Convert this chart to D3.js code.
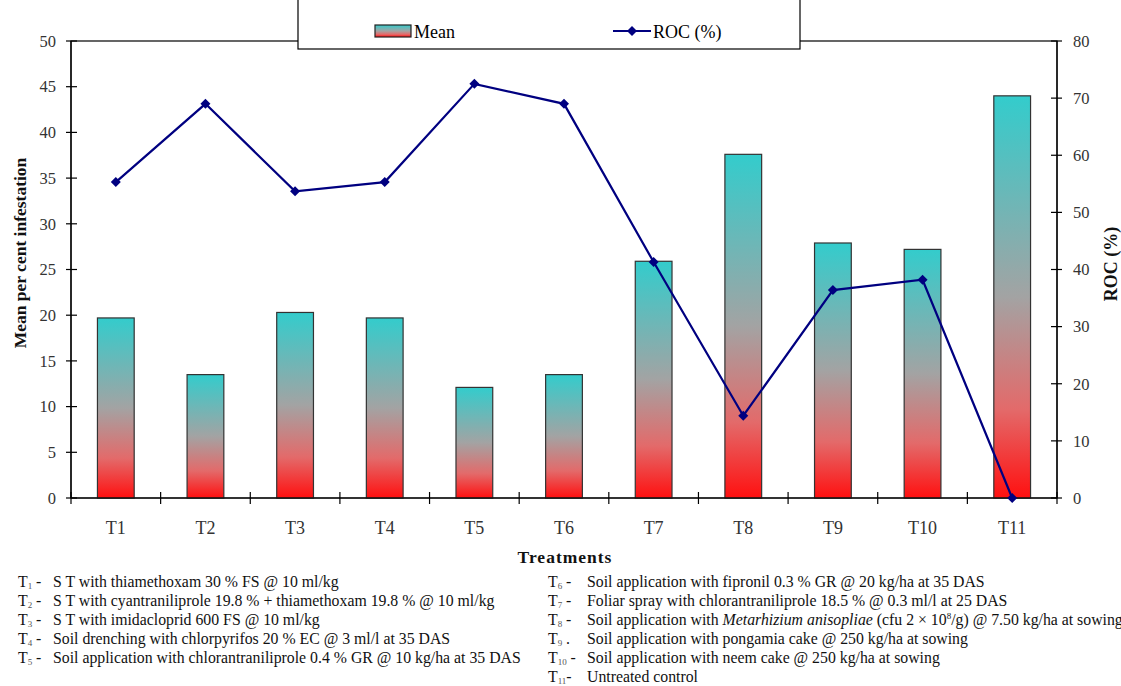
<!DOCTYPE html>
<html>
<head>
<meta charset="utf-8">
<script src="https://cdn.jsdelivr.net/npm/d3@7"></script>
<style>
  body { margin: 0; background: #fff; }
  svg { font-family: "Liberation Serif", "Times New Roman", serif; }
</style>
</head>
<body>
<svg id="chart" width="1121" height="686"></svg>
<script>
// data
var treatments = ['T1', 'T2', 'T3', 'T4', 'T5', 'T6', 'T7', 'T8', 'T9', 'T10', 'T11'];
var meanInfestation = [19.7, 13.5, 20.3, 19.7, 12.1, 13.5, 25.9, 37.6, 27.9, 27.2, 44.0];
var rocPercent = [55.3, 69.0, 53.7, 55.3, 72.5, 69.0, 41.3, 14.4, 36.4, 38.2, 0];
var leftTicks = [0, 5, 10, 15, 20, 25, 30, 35, 40, 45, 50];
var rightTicks = [0, 10, 20, 30, 40, 50, 60, 70, 80];

var notesLeft = [
  { n: '1', sep: ' -', parts: [{ t: 'S T with thiamethoxam 30 % FS @ 10 ml/kg' }] },
  { n: '2', sep: ' -', parts: [{ t: 'S T with cyantraniliprole 19.8 % + thiamethoxam 19.8 % @ 10 ml/kg' }] },
  { n: '3', sep: ' -', parts: [{ t: 'S T with imidacloprid 600 FS @ 10 ml/kg' }] },
  { n: '4', sep: ' -', parts: [{ t: 'Soil drenching with chlorpyrifos 20 % EC @ 3 ml/l at 35 DAS' }] },
  { n: '5', sep: ' -', parts: [{ t: 'Soil application with chlorantraniliprole 0.4 % GR @ 10 kg/ha at 35 DAS' }] }
];
var notesRight = [
  { n: '6', sep: ' -', parts: [{ t: 'Soil application with fipronil 0.3 % GR @ 20 kg/ha at 35 DAS' }] },
  { n: '7', sep: ' -', parts: [{ t: 'Foliar spray with chlorantraniliprole 18.5 % @ 0.3 ml/l at 25 DAS' }] },
  { n: '8', sep: ' -', parts: [{ t: 'Soil application with ' }, { t: 'Metarhizium anisopliae', it: true },
      { t: ' (cfu 2 × 10' }, { t: '8', sup: true }, { t: '/g) @ 7.50 kg/ha at sowing' }] },
  { n: '9', sep: ' .', parts: [{ t: 'Soil application with pongamia cake @ 250 kg/ha at sowing' }] },
  { n: '10', sep: ' -', parts: [{ t: 'Soil application with neem cake @ 250 kg/ha at sowing' }] },
  { n: '11', sep: '-', parts: [{ t: 'Untreated control' }] }
];

var svg = d3.select('#chart');
var pLeft = 71, pRight = 1057, pTop = 41, pBottom = 498;

var x = d3.scaleBand().domain(treatments).range([pLeft, pRight]).padding(0);
var yL = d3.scaleLinear().domain([0, 50]).range([pBottom, pTop]);
var yR = d3.scaleLinear().domain([0, 80]).range([pBottom, pTop]);
var cx = function(t) { return x(t) + x.bandwidth() / 2; };

// gradient for the bars: cyan on top, red at the base
var defs = svg.append('defs');
var grad = defs.append('linearGradient')
  .attr('id', 'barGrad')
  .attr('x1', 0).attr('y1', 0).attr('x2', 0).attr('y2', 1);
grad.append('stop').attr('offset', '0%').attr('stop-color', '#33cccc');
grad.append('stop').attr('offset', '50%').attr('stop-color', '#a3a3a3');
grad.append('stop').attr('offset', '78%').attr('stop-color', '#e36a6a');
grad.append('stop').attr('offset', '100%').attr('stop-color', '#ff1010');

// plot frame
svg.append('rect')
  .attr('x', pLeft).attr('y', pTop)
  .attr('width', pRight - pLeft).attr('height', pBottom - pTop)
  .attr('fill', 'none').attr('stroke', '#000').attr('stroke-width', 1.2);

// bars
var barW = x.bandwidth() * 0.41;
svg.append('g').selectAll('rect')
  .data(meanInfestation)
  .join('rect')
  .attr('x', function(d, i) { return cx(treatments[i]) - barW / 2; })
  .attr('y', function(d) { return yL(d); })
  .attr('width', barW)
  .attr('height', function(d) { return pBottom - yL(d); })
  .attr('fill', 'url(#barGrad)')
  .attr('stroke', '#333')
  .attr('stroke-width', 1.2);

// left axis
var gL = svg.append('g').attr('transform', 'translate(' + pLeft + ',0)');
gL.append('line').attr('y1', pTop).attr('y2', pBottom).attr('stroke', '#000').attr('stroke-width', 1.2);
gL.selectAll('.tk').data(leftTicks).join('line')
  .attr('x1', -5).attr('x2', 6)
  .attr('y1', function(d) { return yL(d); }).attr('y2', function(d) { return yL(d); })
  .attr('stroke', '#000').attr('stroke-width', 1.2);
gL.selectAll('text').data(leftTicks).join('text')
  .attr('x', -15).attr('y', function(d) { return yL(d); })
  .attr('dy', '0.35em').attr('text-anchor', 'end')
  .attr('font-size', 16.5).attr('fill', '#333')
  .text(function(d) { return d; });

// right axis
var gR = svg.append('g').attr('transform', 'translate(' + pRight + ',0)');
gR.append('line').attr('y1', pTop).attr('y2', pBottom).attr('stroke', '#000').attr('stroke-width', 1.2);
gR.selectAll('.tk').data(rightTicks).join('line')
  .attr('x1', -6).attr('x2', 5)
  .attr('y1', function(d) { return yR(d); }).attr('y2', function(d) { return yR(d); })
  .attr('stroke', '#000').attr('stroke-width', 1.2);
gR.selectAll('text').data(rightTicks).join('text')
  .attr('x', 16).attr('y', function(d) { return yR(d); })
  .attr('dy', '0.35em').attr('text-anchor', 'start')
  .attr('font-size', 16.5).attr('fill', '#333')
  .text(function(d) { return d; });

// x axis
var gX = svg.append('g');
gX.append('line').attr('x1', pLeft).attr('x2', pRight).attr('y1', pBottom).attr('y2', pBottom)
  .attr('stroke', '#000').attr('stroke-width', 1.2);
var bounds = treatments.map(function(t) { return x(t); }).concat([pRight]);
gX.selectAll('.tk').data(bounds).join('line')
  .attr('x1', function(d) { return d; }).attr('x2', function(d) { return d; })
  .attr('y1', pBottom - 6).attr('y2', pBottom + 6)
  .attr('stroke', '#000').attr('stroke-width', 1.2);
gX.selectAll('text').data(treatments).join('text')
  .attr('x', function(d) { return cx(d); })
  .attr('y', 534).attr('text-anchor', 'middle')
  .attr('font-size', 18).attr('fill', '#333')
  .text(function(d) { return d; });

// ROC line
var line = d3.line()
  .x(function(d, i) { return cx(treatments[i]); })
  .y(function(d) { return yR(d); });
svg.append('path')
  .datum(rocPercent)
  .attr('d', line)
  .attr('fill', 'none').attr('stroke', '#000080').attr('stroke-width', 2.2);
svg.append('g').selectAll('path')
  .data(rocPercent)
  .join('path')
  .attr('d', d3.symbol().type(d3.symbolDiamond2).size(64))
  .attr('transform', function(d, i) {
    return 'translate(' + cx(treatments[i]) + ',' + yR(d) + ')';
  })
  .attr('fill', '#000080');

// axis titles
svg.append('text')
  .attr('transform', 'translate(26,253) rotate(-90)')
  .attr('text-anchor', 'middle').attr('font-size', 17.5).attr('font-weight', 'bold')
  .attr('fill', '#111')
  .text('Mean per cent infestation');
svg.append('text')
  .attr('transform', 'translate(1117,264) rotate(-90)')
  .attr('text-anchor', 'middle').attr('font-size', 18).attr('font-weight', 'bold')
  .attr('fill', '#111')
  .text('ROC (%)');
svg.append('text')
  .attr('x', 565).attr('y', 563)
  .attr('text-anchor', 'middle').attr('font-size', 17.5).attr('font-weight', 'bold')
  .attr('letter-spacing', 1).attr('fill', '#111')
  .text('Treatments');

// legend box
var lg = svg.append('g');
lg.append('rect')
  .attr('x', 298).attr('y', -5).attr('width', 502).attr('height', 54)
  .attr('fill', '#fff').attr('stroke', '#000').attr('stroke-width', 1.2);
lg.append('rect')
  .attr('x', 375).attr('y', 25).attr('width', 36).attr('height', 12)
  .attr('fill', 'url(#barGrad)').attr('stroke', '#222').attr('stroke-width', 1.2);
lg.append('text').attr('x', 414).attr('y', 38).attr('font-size', 18).text('Mean');
lg.append('line').attr('x1', 613).attr('x2', 651).attr('y1', 31).attr('y2', 31)
  .attr('stroke', '#000080').attr('stroke-width', 2.2);
lg.append('path')
  .attr('d', d3.symbol().type(d3.symbolDiamond2).size(64))
  .attr('transform', 'translate(632,31)').attr('fill', '#000080');
lg.append('text').attr('x', 653).attr('y', 38).attr('font-size', 18).text('ROC (%)');

// footnotes
function drawNotes(notes, xLab, xText) {
  var g = svg.append('g').attr('font-size', 15.8).attr('fill', '#111');
  notes.forEach(function(d, i) {
    var yy = 587 + i * 19;
    var lab = g.append('text').attr('x', xLab).attr('y', yy);
    lab.append('tspan').text('T');
    lab.append('tspan').attr('font-size', 9).attr('fill', '#555').attr('dy', 1.5).text(d.n);
    lab.append('tspan').attr('dy', -1.5).text(d.sep);
    var tx = g.append('text').attr('x', xText).attr('y', yy);
    d.parts.forEach(function(p, k) {
      var s = tx.append('tspan').text(p.t);
      if (p.it) s.attr('font-style', 'italic');
      if (p.sup) s.attr('font-size', 9).attr('dy', -6);
      if (k > 0 && d.parts[k - 1].sup) s.attr('dy', 6);
    });
  });
}
drawNotes(notesLeft, 18, 53);
drawNotes(notesRight, 548, 587);
</script>
</body>
</html>
